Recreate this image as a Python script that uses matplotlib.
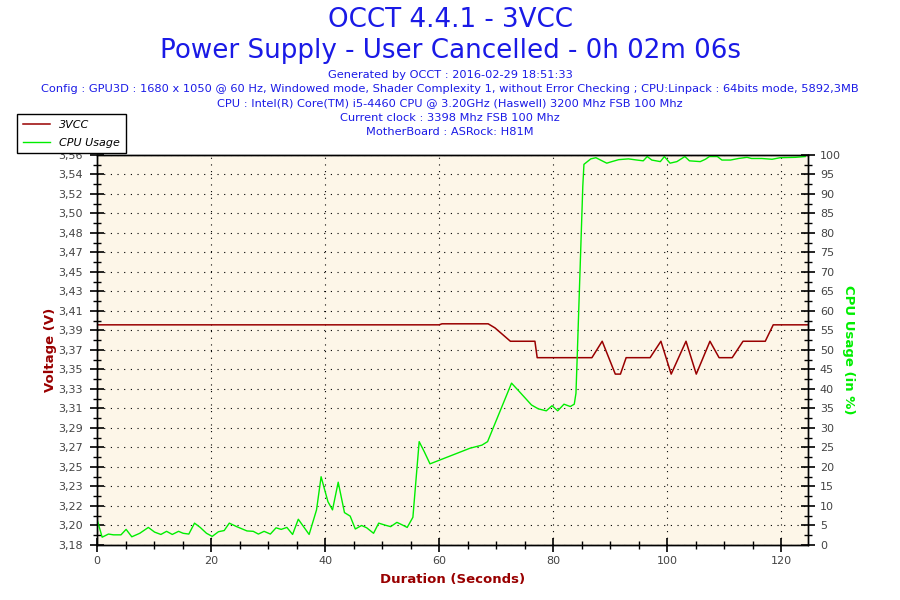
import numpy as np
import matplotlib
matplotlib.use('Agg')
import matplotlib.pyplot as plt
from matplotlib.ticker import MultipleLocator, FixedLocator

# CPU usage trace (seconds, %)
cpu_time = [0.0, 0.9, 2.0, 2.9, 4.2, 5.1, 6.1, 7.5, 9.0, 10.1, 11.2, 12.2, 13.2, 14.3,
            15.1, 16.1, 17.1, 18.1, 19.2, 20.2, 21.3, 22.3, 23.2, 24.5, 26.3, 27.4,
            28.3, 29.3, 30.4, 31.4, 32.3, 33.3, 34.3, 35.3, 37.2, 38.5, 39.3, 40.5,
            41.3, 42.3, 43.4, 44.4, 45.3, 46.4, 47.3, 48.5, 49.4, 50.5, 51.5, 52.6,
            53.6, 54.4, 55.4, 56.5, 57.4, 58.4, 65.4, 67.5, 68.5, 72.7, 73.9, 76.2,
            77.4, 78.8, 79.8, 80.8, 81.9, 83.0, 83.7, 84.0, 84.2, 85.2, 85.4, 86.6,
            87.5, 89.4, 90.3, 91.5, 93.2, 94.7, 95.8, 96.5, 97.3, 98.8, 99.5, 100.5,
            101.7, 103.1, 103.9, 105.8, 106.7, 107.4, 108.8, 109.6, 111.1, 112.5,
            114.0, 114.8, 116.6, 118.4, 119.8, 122.5, 124.2]
cpu_usage = [6.6, 2.0, 2.8, 2.6, 2.6, 4.0, 2.1, 3.0, 4.5, 3.3, 2.7, 3.5, 2.7, 3.5,
             3.0, 2.8, 5.6, 4.5, 3.0, 2.2, 3.4, 3.7, 5.6, 4.7, 3.6, 3.5,
             2.8, 3.5, 2.8, 4.4, 4.0, 4.5, 2.7, 6.6, 2.7, 9.0, 17.5, 11.1,
             9.0, 16.1, 8.3, 7.4, 4.1, 5.0, 4.4, 3.0, 5.6, 5.1, 4.7, 5.8,
             5.1, 4.5, 7.1, 26.5, 23.9, 20.8, 24.8, 25.6, 26.5, 41.5, 39.6, 35.9,
             34.9, 34.4, 35.7, 34.4, 36.1, 35.5, 36.1, 38.9, 47.4, 92.0, 97.6, 99.0,
             99.3, 97.9, 98.3, 98.8, 99.0, 98.7, 98.5, 99.6, 98.7, 98.3, 99.6, 97.9,
             98.3, 99.6, 98.5, 98.3, 98.9, 99.6, 99.6, 98.7, 98.7, 99.1,
             99.4, 99.1, 99.1, 98.9, 99.3, 99.4, 99.6]

# 3VCC trace (seconds, volts)
volt_time = [0.0, 60.0, 60.5, 68.6, 69.8, 72.5, 76.8, 77.2, 86.8, 88.6, 90.9, 91.8,
             92.8, 97.0, 98.9, 100.7, 103.3, 105.1, 107.5, 109.1, 111.4, 113.3,
             117.2, 118.6, 124.7]
volt = [3.392, 3.392, 3.393, 3.393, 3.389, 3.376, 3.376, 3.360, 3.360, 3.376, 3.344, 3.344,
        3.360, 3.360, 3.376, 3.344, 3.376, 3.344, 3.376, 3.360, 3.360, 3.376,
        3.376, 3.392, 3.392]

volt_labels = ['3,18', '3,20', '3,22', '3,23', '3,25', '3,27', '3,29', '3,31', '3,33',
               '3,35', '3,37', '3,39', '3,41', '3,43', '3,45', '3,47', '3,48', '3,50',
               '3,52', '3,54', '3,56']

title_lines = ['OCCT 4.4.1 - 3VCC', 'Power Supply - User Cancelled - 0h 02m 06s']
info_lines = ['Generated by OCCT : 2016-02-29 18:51:33',
              'Config : GPU3D : 1680 x 1050 @ 60 Hz, Windowed mode, Shader Complexity 1, '
              'without Error Checking ; CPU:Linpack : 64bits mode, 5892,3MB',
              'CPU : Intel(R) Core(TM) i5-4460 CPU @ 3.20GHz (Haswell) 3200 Mhz FSB 100 Mhz',
              'Current clock : 3398 Mhz FSB 100 Mhz',
              'MotherBoard : ASRock: H81M']

blue = '#1a1ae6'
red = '#990000'
green = '#00ee00'
grey = '#444444'

plt.rcParams['font.family'] = ['DejaVu Sans']

fig = plt.figure(figsize=(9, 6), dpi=100)
fig.patch.set_facecolor('white')
ax = fig.add_axes([0.1078, 0.0917, 0.79, 0.65])
ax.set_facecolor('#fdf6e8')
ax2 = ax.twinx()

v0 = 3.1775
vstep = 0.019
ax.set_xlim(0, 124.7)
ax.set_ylim(v0, v0 + 20 * vstep)
ax2.set_ylim(0, 100)

ax.plot(volt_time, volt, color=red, linewidth=1.1, label='3VCC')
ax2.plot(cpu_time, cpu_usage, color=green, linewidth=1.0, label='CPU Usage')

# ticks
ax.yaxis.set_major_locator(FixedLocator(v0 + vstep * np.arange(21)))
ax.set_yticklabels(volt_labels)
ax.yaxis.set_minor_locator(FixedLocator(v0 + vstep * (np.arange(20) + 0.5)))
ax.xaxis.set_major_locator(MultipleLocator(20))
ax.xaxis.set_minor_locator(MultipleLocator(5))
ax2.yaxis.set_major_locator(MultipleLocator(5))
ax2.yaxis.set_minor_locator(MultipleLocator(2.5))

for a in (ax, ax2):
    a.tick_params(which='major', direction='inout', length=10, width=1.2,
                  labelsize=8, labelcolor=grey, color='black')
    a.tick_params(which='minor', direction='inout', length=6, width=1, color='black')
    for s in a.spines.values():
        s.set_color('black')
        s.set_linewidth(1)
ax.tick_params(axis='x', which='major', pad=3)
ax.tick_params(axis='y', which='major', pad=5)

ax.grid(True, which='major', color='black', linestyle=(0, (1, 5)), linewidth=0.8)

ax.set_xlabel('Duration (Seconds)', color=red, fontsize=9.5, fontweight='bold', labelpad=5)
ax.set_ylabel('Voltage (V)', color=red, fontsize=9.5, fontweight='bold', labelpad=1)
ax2.set_ylabel('CPU Usage (in %)', color=green, fontsize=9.5, fontweight='bold',
               rotation=-90, labelpad=10)

fig.text(0.5, 1 - 20 / 600, title_lines[0], ha='center', va='center',
         fontsize=18.8, color=blue)
fig.text(0.5, 1 - 51 / 600, title_lines[1], ha='center', va='center',
         fontsize=18.8, color=blue)
for i, line in enumerate(info_lines):
    fig.text(0.5, 1 - (75 + 14.2 * i) / 600, line, ha='center', va='center',
             fontsize=8.2, color=blue)

h1, l1 = ax.get_legend_handles_labels()
h2, l2 = ax2.get_legend_handles_labels()
leg = fig.legend(h1 + h2, l1 + l2, loc='upper left', bbox_to_anchor=(17 / 900, 1 - 114 / 600),
                 borderaxespad=0, fancybox=False, edgecolor='black', framealpha=1,
                 prop={'style': 'italic', 'size': 8}, handlelength=2.5,
                 borderpad=0.5, labelspacing=0.75)
leg.get_frame().set_linewidth(1)

plt.savefig('out.png', dpi=100)
plt.close()
